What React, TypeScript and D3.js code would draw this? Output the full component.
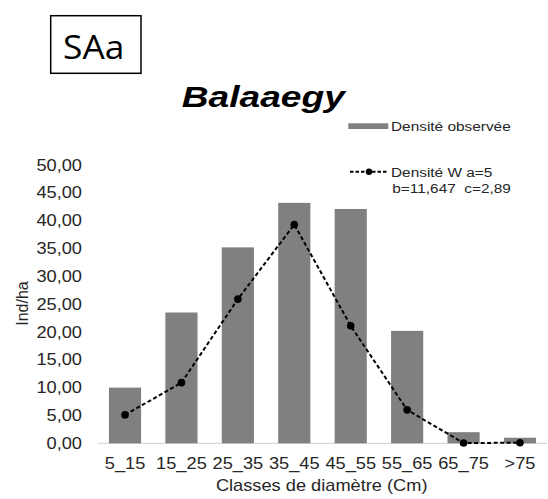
import React from "react";
import * as d3 from "d3";

const categories = ["5_15", "15_25", "25_35", "35_45", "45_55", "55_65", "65_75", ">75"];
const observed = [10.0, 23.5, 35.2, 43.2, 42.1, 20.2, 2.0, 1.0];
const weibull = [5.1, 10.9, 25.9, 39.3, 21.1, 6.0, 0.05, 0.1];
const yTicks = [0, 5, 10, 15, 20, 25, 30, 35, 40, 45, 50];

const FONT = "'Liberation Sans', Arial, sans-serif";
const SX = 1.14;
const TEXT = "#262626";

function SText(props: {
  x: number; y: number; sx?: number; anchor?: string; size: number;
  children: React.ReactNode; weight?: string; italic?: boolean; fill?: string; family?: string;
}) {
  const { x, y, sx = SX, anchor = "start", size, children, weight, italic, fill = TEXT, family = FONT } = props;
  return (
    <text
      transform={`translate(${x},${y}) scale(${sx},1)`}
      textAnchor={anchor}
      fontSize={size}
      fontFamily={family}
      fontWeight={weight}
      fontStyle={italic ? "italic" : undefined}
      fill={fill}
      style={{ whiteSpace: "pre" }}
    >
      {children}
    </text>
  );
}

export default function App() {
  const x = d3.scaleBand<string>().domain(categories).range([96.8, 548.2]).paddingInner(0.43).paddingOuter(0.215);
  const y = d3.scaleLinear().domain([0, 50]).range([443.3, 165]);
  const fmt = (v: number) => d3.format(".2f")(v).replace(".", ",");
  const cx = (c: string) => (x(c) as number) + x.bandwidth() / 2;
  const line = d3.line<number>().x((_, i) => cx(categories[i])).y((d) => y(d));

  return (
    <svg width={548} height={499} style={{ position: "absolute", left: 0, top: 0, background: "#fff" }}>
      <rect x={0} y={0} width={548} height={499} fill="#fff" />
      {/* SAa box */}
      <rect x={50.7} y={15.7} width={90.3} height={57.6} fill="none" stroke="#000" strokeWidth={1.5} />
      <SText x={93.7} y={59} sx={1.07} anchor="middle" size={33} fill="#000" family="'Open Sans', 'Noto Sans', sans-serif">SAa</SText>

      {/* Title */}
      <SText x={263.3} y={107.3} sx={1.28} anchor="middle" size={29} weight="bold" italic fill="#000">Balaaegy</SText>

      {/* Y ticks */}
      {yTicks.map((t) => (
        <SText key={t} x={82} y={y(t) + 5.6} anchor="end" size={16}>{fmt(t)}</SText>
      ))}
      {/* axis line */}
      <line x1={98} x2={547} y1={y(0)} y2={y(0)} stroke="#d9d9d9" strokeWidth={1.2} />

      {/* Bars */}
      {observed.map((v, i) => (
        <rect key={i} x={x(categories[i])} y={y(v)} width={x.bandwidth()} height={y(0) - y(v)} fill="#808080" />
      ))}

      {/* Weibull line */}
      <path d={line(weibull) || ""} fill="none" stroke="#000" strokeWidth={2} strokeDasharray="4,2.5" />
      {weibull.map((v, i) => (
        <circle key={i} cx={cx(categories[i])} cy={y(v)} r={3.8} fill="#000" />
      ))}

      {/* X tick labels */}
      {categories.map((c) => (
        <SText key={c} x={cx(c)} y={469} anchor="middle" size={16}>{c}</SText>
      ))}
      <SText x={321.7} y={490.6} anchor="middle" size={16}>Classes de diamètre (Cm)</SText>

      {/* Y title */}
      <text transform="translate(27.5,303.5) rotate(-90)" textAnchor="middle" fontSize={16} fontFamily={FONT} fill={TEXT}>Ind/ha</text>

      {/* Legend */}
      <rect x={348.3} y={123.3} width={40} height={5.7} fill="#808080" />
      <SText x={391} y={130.7} size={13.5}>Densité observée</SText>
      <line x1={350} x2={388.3} y1={171.7} y2={171.7} stroke="#000" strokeWidth={2} strokeDasharray="3.5,2" />
      <circle cx={369} cy={171.7} r={3.2} fill="#000" />
      <SText x={391} y={176.5} size={13.5}>Densité W a=5</SText>
      <SText x={392.3} y={193} size={13.5}>{"b=11,647  c=2,89"}</SText>
    </svg>
  );
}
